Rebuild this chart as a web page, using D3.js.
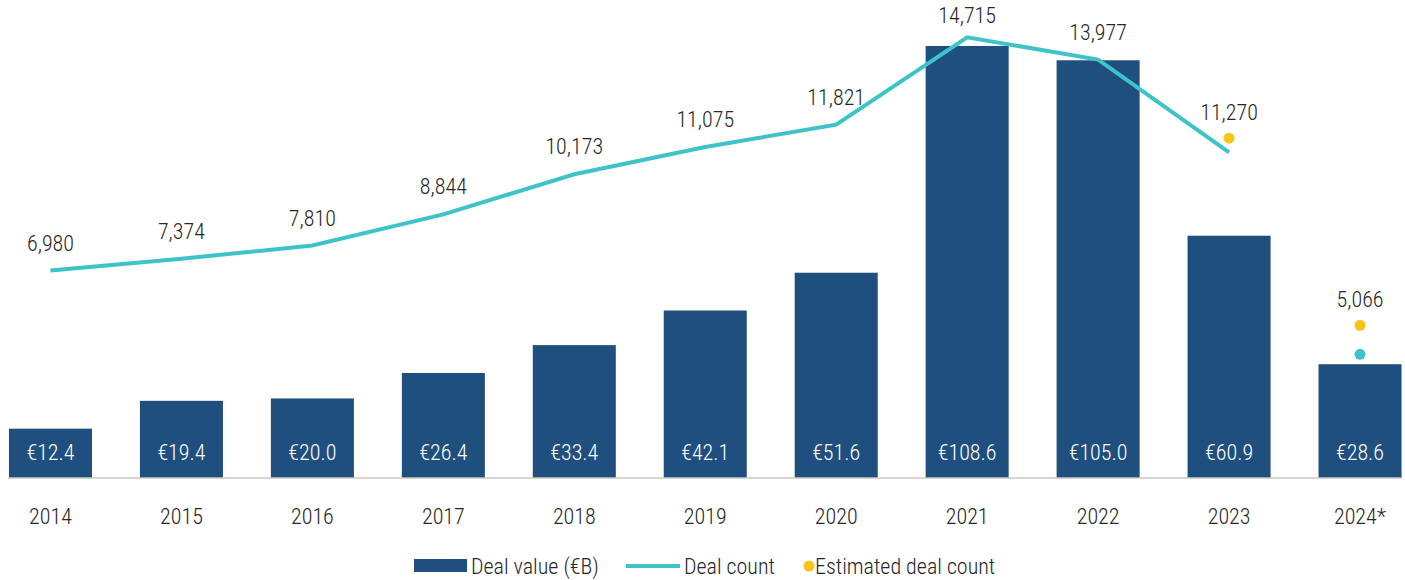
<!DOCTYPE html>
<html>
<head>
<meta charset="utf-8">
<script src="https://cdn.jsdelivr.net/npm/d3@7"></script>
<style>
  body { margin: 0; background: #fff; }
  text {
    font-family: "Roboto Condensed", Roboto, sans-serif;
    font-stretch: condensed;
    font-weight: 300;
    fill: #262626;
  }
</style>
</head>
<body>
<svg id="chart" width="1405" height="580"></svg>
<script>
// chart data
var YEARS = ['2014', '2015', '2016', '2017', '2018', '2019', '2020', '2021', '2022', '2023', '2024*'];
var DEAL_VALUE = [12.4, 19.4, 20.0, 26.4, 33.4, 42.1, 51.6, 108.6, 105.0, 60.9, 28.6];
var DEAL_COUNT = [6980, 7374, 7810, 8844, 10173, 11075, 11821, 14715, 13977, 10900, 4200];
// which counts get a printed label on the line
var COUNT_LABELS = ['6,980', '7,374', '7,810', '8,844', '10,173', '11,075', '11,821', '14,715', '13,977', null, null];
var EST_YEARS = ['2023', '2024*'];
var EST_COUNT = [11270, 5066];
var EST_LABELS = ['11,270', '5,066'];

var BAR_COLOR = '#1f4f7e';
var LINE_COLOR = '#3ec3c9';
var EST_COLOR = '#f5c518';

var svg = d3.select('#chart');

var x = d3.scaleBand()
    .domain(YEARS)
    .range([-15, 1425.5])
    .paddingInner(0.366)
    .paddingOuter(0.183);

var yValue = d3.scaleLinear().domain([0, 120]).range([478, 0.6]);
var yCount = d3.scaleLinear().domain([0, 16000]).range([481, -1.4]);

function cx(year) {
  return x(year) + x.bandwidth() / 2;
}

// bars
svg.selectAll('.value-bar')
    .data(YEARS)
    .enter().append('rect')
    .classed('value-bar', true)
    .attr('x', function(d) { return x(d); })
    .attr('width', x.bandwidth())
    .attr('y', function(d, i) { return yValue(DEAL_VALUE[i]); })
    .attr('height', function(d, i) { return yValue(0) - yValue(DEAL_VALUE[i]); })
    .attr('fill', BAR_COLOR);

svg.selectAll('.value-text')
    .data(YEARS)
    .enter().append('text')
    .classed('value-text', true)
    .attr('x', cx)
    .attr('y', 460)
    .attr('text-anchor', 'middle')
    .style('font-size', '22px')
    .style('fill', '#ffffff')
    .text(function(d, i) { return '€' + DEAL_VALUE[i].toFixed(1); });

// x axis
var xAxis = svg.append('g')
    .attr('transform', 'translate(0,478)')
    .call(d3.axisBottom(x).tickSize(0).tickPadding(30));
xAxis.select('.domain')
    .attr('d', 'M8,0H1401')
    .attr('stroke', '#cfc7bf')
    .attr('stroke-width', 1.5);
xAxis.selectAll('text')
    .attr('font-family', null)
    .attr('fill', null)
    .style('font-size', '22px');

// deal count line (2014-2023)
var lineYears = YEARS.slice(0, 10);
var line = d3.line()
    .x(function(d) { return cx(d); })
    .y(function(d, i) { return yCount(DEAL_COUNT[i]); });

svg.append('path')
    .datum(lineYears)
    .attr('d', line)
    .attr('fill', 'none')
    .attr('stroke', LINE_COLOR)
    .attr('stroke-width', 4);

svg.selectAll('.count-text')
    .data(YEARS.filter(function(d, i) { return COUNT_LABELS[i]; }))
    .enter().append('text')
    .classed('count-text', true)
    .attr('x', cx)
    .attr('y', function(d) {
      var i = YEARS.indexOf(d);
      return Math.max(23, yCount(DEAL_COUNT[i]) - 20);
    })
    .attr('text-anchor', 'middle')
    .style('font-size', '22px')
    .text(function(d) { return COUNT_LABELS[YEARS.indexOf(d)]; });

// 2024 partial count
svg.append('circle')
    .attr('cx', cx('2024*'))
    .attr('cy', yCount(DEAL_COUNT[10]))
    .attr('r', 5.5)
    .attr('fill', LINE_COLOR);

// estimates
svg.selectAll('.est-dot')
    .data(EST_YEARS)
    .enter().append('circle')
    .classed('est-dot', true)
    .attr('cx', cx)
    .attr('cy', function(d, i) { return yCount(EST_COUNT[i]) - 3; })
    .attr('r', 5.5)
    .attr('fill', EST_COLOR);

svg.selectAll('.est-text')
    .data(EST_YEARS)
    .enter().append('text')
    .classed('est-text', true)
    .attr('x', cx)
    .attr('y', function(d, i) { return yCount(EST_COUNT[i]) - 21; })
    .attr('text-anchor', 'middle')
    .style('font-size', '22px')
    .text(function(d, i) { return EST_LABELS[i]; });

// legend
var legend = svg.append('g').attr('transform', 'translate(0,566)');
legend.append('rect')
    .attr('x', 414).attr('y', -7).attr('width', 53).attr('height', 13)
    .attr('fill', BAR_COLOR);
legend.append('text').attr('x', 471).attr('y', 8)
    .style('font-size', '22px').text('Deal value (€B)');
legend.append('line')
    .attr('x1', 626).attr('x2', 680).attr('y1', 0).attr('y2', 0)
    .attr('stroke', LINE_COLOR).attr('stroke-width', 4);
legend.append('text').attr('x', 684).attr('y', 8)
    .style('font-size', '22px').text('Deal count');
legend.append('circle')
    .attr('cx', 809).attr('cy', 0).attr('r', 5.5)
    .attr('fill', EST_COLOR);
legend.append('text').attr('x', 815).attr('y', 8)
    .style('font-size', '22px').text('Estimated deal count');
</script>
</body>
</html>
